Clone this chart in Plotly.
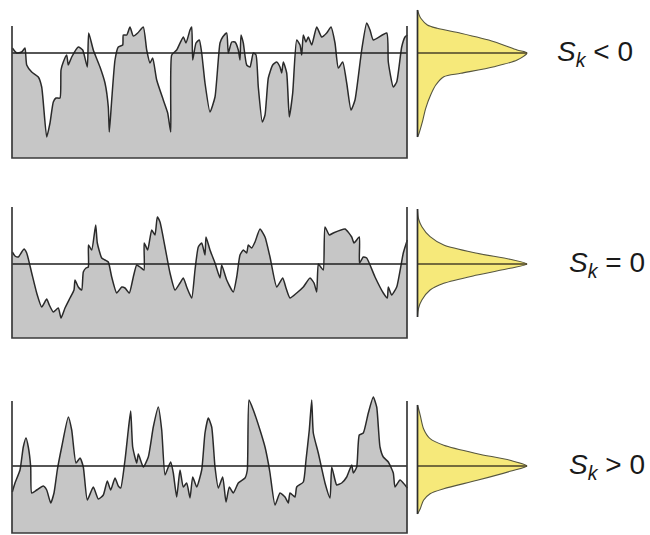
import plotly.graph_objects as go

# ---------------- data ----------------
# profile 1 (Sk < 0): position along profile, height relative to mean line
p1_x = [0.3, 4.7, 9.7, 13, 14.7, 19.7, 26.3, 29.7, 34.7, 38, 41.3, 44, 48, 49, 51.3, 54.7, 56.3, 59.7, 66.3, 70.7,
        75.3, 76.7, 81.3, 88, 93, 96.3, 97.3, 99.7, 103, 106.3, 110.7, 111.3, 114.7, 118, 121.3, 125.7, 131.3, 134.7,
        138, 140.7, 144.7, 151.3, 155.7, 158.7, 159.7, 164.7, 171.3, 174, 178, 179.7, 180.7, 184, 187.3, 189.7, 193,
        198, 203, 208, 210.7, 214.7, 216.3, 219.7, 223, 226.3, 228, 229, 231.3, 234.7, 238, 241.3, 244, 246.3, 250.3,
        253, 256.3, 260.7, 264.7, 268, 269.7, 271.3, 274.7, 277.3, 280.7, 284.7, 288, 289.7, 291.3, 294, 296.3, 299.7,
        304.7, 309.7, 314.7, 319, 323, 326.3, 330.7, 334.7, 339, 343, 349.7, 354.7, 358, 361.3, 374.7, 376.3, 381.3,
        384.7, 389.7, 393, 395.3]
p1_z = [5, 0, 1, 5, -12, -19, -24, -34, -84, -70, -49, -45, -45, -17, -9, -2, -12, -4, 6, 3,
        -14, 20, 3, -14, -30, -54, -79, -47, -7, 6, 8, 18, 18, 26, 17, 20, 26, 3,
        -10, -5, -27, -47, -60, -79, -2, 3, 16, 10, 23, 26, -7, 10, 13, 0, -30,
        -59, -44, 10, 16, 20, 0, 11, 11, 3, -7, 18, 10, -12, -14, 0, -2, -34, -69,
        -62, -25, -12, -9, -14, -20, -9, -20, -64, -40, 13, 8, -2, 18, 11, 16, 8,
        26, 16, 20, 26, 10, -15, -9, -30, -57, -47, 3, 30, 23, 13, 20, -9, -34,
        -29, 6, 16, 18]

# profile 2 (Sk = 0)
p2_x = [0.3, 3, 6.3, 9.7, 12, 14.7, 19.7, 24.7, 29.7, 34.7, 37.3, 41.3, 46.3, 49, 53, 58, 62, 63, 66.3, 69.7,
        71.3, 74, 76.3, 76.5, 79.7, 83.7, 85.3, 89.7, 93, 96.3, 99.7, 104.7, 109.7, 113, 117.3, 121.3, 124.7, 128,
        132, 132.2, 135.7, 139.7, 143, 145.3, 148, 153, 158, 163, 168, 171.3, 174.7, 179.7, 183, 186.3, 189.7, 193,
        194, 198, 203, 208, 209.7, 214.7, 221.3, 224.7, 228, 231.3, 234.7, 236.3, 239.7, 243, 248, 253, 258, 264.7,
        270.7, 274, 278, 284.7, 291.3, 298, 302, 304.7, 306.3, 308.7, 311.3, 313, 317.3, 321.3, 333, 339.7, 342,
        347.3, 347.5, 351.3, 354.7, 363, 371.3, 375.3, 376.3, 379.7, 384.7, 391.3, 395.3]
p2_z = [12, 8, 7, 12, 15, 11, -9, -29, -43, -35, -41, -48, -44, -54, -44, -34, -26, -16, -23, -26,
        -8, -4, -3, 19, 14, 39, 21, 6, 4, 2, -13, -29, -23, -24, -29, -13, -1, -3,
        -6, 21, 14, 34, 29, 47, 42, 17, -9, -26, -19, -14, -23, -34, -6, 17, 21, 9,
        27, 14, 1, -14, -1, -16, -28, -13, 9, 14, 11, 19, 16, 22, 35, 27, 7, -23,
        -14, -24, -34, -29, -23, -14, -19, -28, 0, -3, -6, 37, 29, 31, 35, 27, 21,
        27, 1, 7, 6, -13, -29, -34, -23, -31, -23, 11, 24]

# profile 3 (Sk > 0)
p3_x = [0.3, 3, 8, 11.3, 14, 16.3, 18.7, 19.7, 24.7, 31.3, 34.7, 38.7, 42, 45.3, 49.7, 56.3, 59.7, 64, 68, 71.3,
        75.3, 81.3, 86.3, 91.3, 95.3, 98.7, 103, 106.3, 108.7, 113, 116.3, 118.7, 120.7, 124.7, 126.3, 131.3, 136.3,
        141.3, 146.3, 149.7, 153, 156.3, 158.7, 161.3, 164.7, 168, 171.3, 174.7, 178, 180.7, 184.7, 189.7, 193,
        196.3, 199.7, 203, 206.3, 210.7, 214, 217.3, 221.3, 226.3, 233, 235.3, 237, 241.3, 248, 253, 256.3, 258,
        263, 268, 273, 276.3, 278, 283, 284.7, 291.3, 294, 297.3, 299.7, 301.3, 306.3, 313, 318, 319.7, 323, 324.7,
        329.7, 334.7, 339.7, 341.3, 344.7, 347.3, 351.3, 356.3, 361.3, 364.7, 368, 371.3, 376.3, 381.3, 383, 388,
        393, 395.3]
p3_z = [-26, -17, -4, 19, 28, 19, -1, -27, -24, -20, -24, -37, -27, -4, 19, 49, 36, 3, 8, -1,
        -34, -21, -33, -29, -15, -24, -12, -20, -22, 6, 36, 55, 19, 3, 12, -1, 9,
        39, 59, 36, -9, -1, 4, -7, -31, -4, -21, -17, -32, -11, -21, -4, 33,
        48, 39, -1, -22, -11, -36, -21, -27, -17, -12, -4, 66, 56, 36, 19, 3, -7,
        -39, -27, -31, -37, -27, -31, -21, -16, 6, 36, 66, 33, 13, -17, -32, -1, -14, -19,
        -17, -11, 1, -7, -1, 31, 33, 53, 69, 59, 19, 9, 4, -7, -21, -14,
        -19, -22]

# height distributions (height, relative density)
d1_z = [43, 38, 34.7, 28, 24.7, 19.7, 11.3, 3, 0, -7, -13.7, -20.3, -23.7, -32, -42, -55.3, -68.7, -80, -84]
d1_d = [0, 0.015, 0.03, 0.09, 0.18, 0.395, 0.70, 0.91, 1.0, 0.91, 0.70, 0.395, 0.24, 0.167, 0.12, 0.075, 0.045, 0.015, 0]
d2_z = [55, 45, 37.3, 27.3, 19, 10.7, 4.7, 0, -4.3, -11, -19.3, -26, -36, -44, -53]
d2_d = [0, 0.01, 0.04, 0.115, 0.24, 0.545, 0.845, 1.0, 0.845, 0.545, 0.24, 0.115, 0.04, 0.01, 0]
d3_z = [61, 57, 50.7, 37.3, 27.3, 20.7, 12.3, 5.7, 0, -5.3, -14.3, -22.7, -27.7, -34.3, -42.7, -48]
d3_d = [0, 0.01, 0.025, 0.055, 0.115, 0.24, 0.545, 0.845, 1.0, 0.845, 0.545, 0.24, 0.115, 0.055, 0.025, 0]

labels = ["<i>S</i><sub><i>k</i></sub> &lt; 0",
          "<i>S</i><sub><i>k</i></sub> = 0",
          "<i>S</i><sub><i>k</i></sub> &gt; 0"]

# profile frame extents (length, bottom, side top) per panel
frame_len = 395
frame_bottom = [-105, -74, -67]
frame_top = [27, 57, 65]

# ---------------- figure ----------------
W, H = 650, 535
fig = go.Figure()

profiles = [(p1_x, p1_z), (p2_x, p2_z), (p3_x, p3_z)]
dists = [(d1_z, d1_d), (d2_z, d2_d), (d3_z, d3_d)]
# pixel rows occupied by each panel and the pixel row of its mean line
panel_rows = [(0, 170, 53), (190, 350, 264), (380, 535, 466)]

GRAY = "#c6c6c6"
LINE = "#2a2a2a"
YELLOW = "#f6e97a"

for i in range(3):
    k = i + 1
    xa = "x" if k == 1 else f"x{k}"
    ya = "y" if k == 1 else f"y{k}"
    dk = k + 3
    xd = f"x{dk}"
    px, pz = profiles[i]
    bot = frame_bottom[i]
    top = frame_top[i]

    # baseline for fill
    fig.add_trace(go.Scatter(x=[0, frame_len], y=[bot, bot], mode="lines",
                             line=dict(width=0, color=GRAY), xaxis=xa, yaxis=ya,
                             showlegend=False, hoverinfo="skip"))
    fig.add_trace(go.Scatter(x=px, y=pz, mode="lines", fill="tonexty", fillcolor=GRAY,
                             line=dict(color=LINE, width=1.5, shape="spline", smoothing=0.5),
                             xaxis=xa, yaxis=ya, showlegend=False))
    # mean line
    fig.add_trace(go.Scatter(x=[0, frame_len], y=[0, 0], mode="lines",
                             line=dict(color="#1e1e1e", width=1.4), xaxis=xa, yaxis=ya,
                             showlegend=False, hoverinfo="skip"))
    # frame (left, bottom, right)
    fig.add_trace(go.Scatter(x=[0, 0, frame_len, frame_len], y=[top, bot, bot, top], mode="lines",
                             line=dict(color="#3a3a3a", width=1.7), xaxis=xa, yaxis=ya,
                             showlegend=False, hoverinfo="skip"))

    # distribution
    dz, dd = dists[i]
    fig.add_trace(go.Scatter(x=dd, y=dz, mode="lines", fill="toself", fillcolor=YELLOW,
                             line=dict(color="#55553f", width=1.1, shape="spline", smoothing=0.8),
                             xaxis=xd, yaxis=ya, showlegend=False))
    fig.add_trace(go.Scatter(x=[0, max(dd)], y=[0, 0], mode="lines",
                             line=dict(color="#4a4228", width=1.5), xaxis=xd, yaxis=ya,
                             showlegend=False, hoverinfo="skip"))
    fig.add_trace(go.Scatter(x=[0, 0], y=[max(dz), min(dz)], mode="lines",
                             line=dict(color="#2e2e2e", width=1.7), xaxis=xd, yaxis=ya,
                             showlegend=False, hoverinfo="skip"))

    r0, r1, rm = panel_rows[i]
    ydom = [1 - r1 / H, 1 - r0 / H]
    yrng = [rm - r1, rm - r0]
    axis_off = dict(visible=False, showgrid=False, zeroline=False, fixedrange=True)
    fig.layout[f"yaxis{'' if k == 1 else k}"] = dict(domain=ydom, range=yrng, anchor=xa, **axis_off)
    fig.layout[f"xaxis{'' if k == 1 else k}"] = dict(domain=[0, 420 / W], range=[-12, 408], anchor=ya, **axis_off)
    # distribution x axis: density 0 at px 417.5, 1 at px 527
    s = 109.5
    fig.layout[f"xaxis{dk}"] = dict(domain=[410 / W, 545 / W],
                                    range=[(410 - 417.5) / s, (545 - 417.5) / s], anchor=ya, **axis_off)

    fig.add_annotation(text=labels[i], xref="paper", yref=ya,
                       x=(555 if i == 0 else 567) / W, y=0, xanchor="left", yanchor="middle",
                       showarrow=False, font=dict(family="Liberation Sans, Arial", size=28, color="#1a1a1a"))

fig.update_layout(width=W, height=H, margin=dict(l=0, r=0, t=0, b=0),
                  paper_bgcolor="white", plot_bgcolor="rgba(0,0,0,0)", showlegend=False)

fig.write_html("out.html", config={"displayModeBar": False},
               post_script="document.body.style.margin='0';document.body.style.padding='0';")
